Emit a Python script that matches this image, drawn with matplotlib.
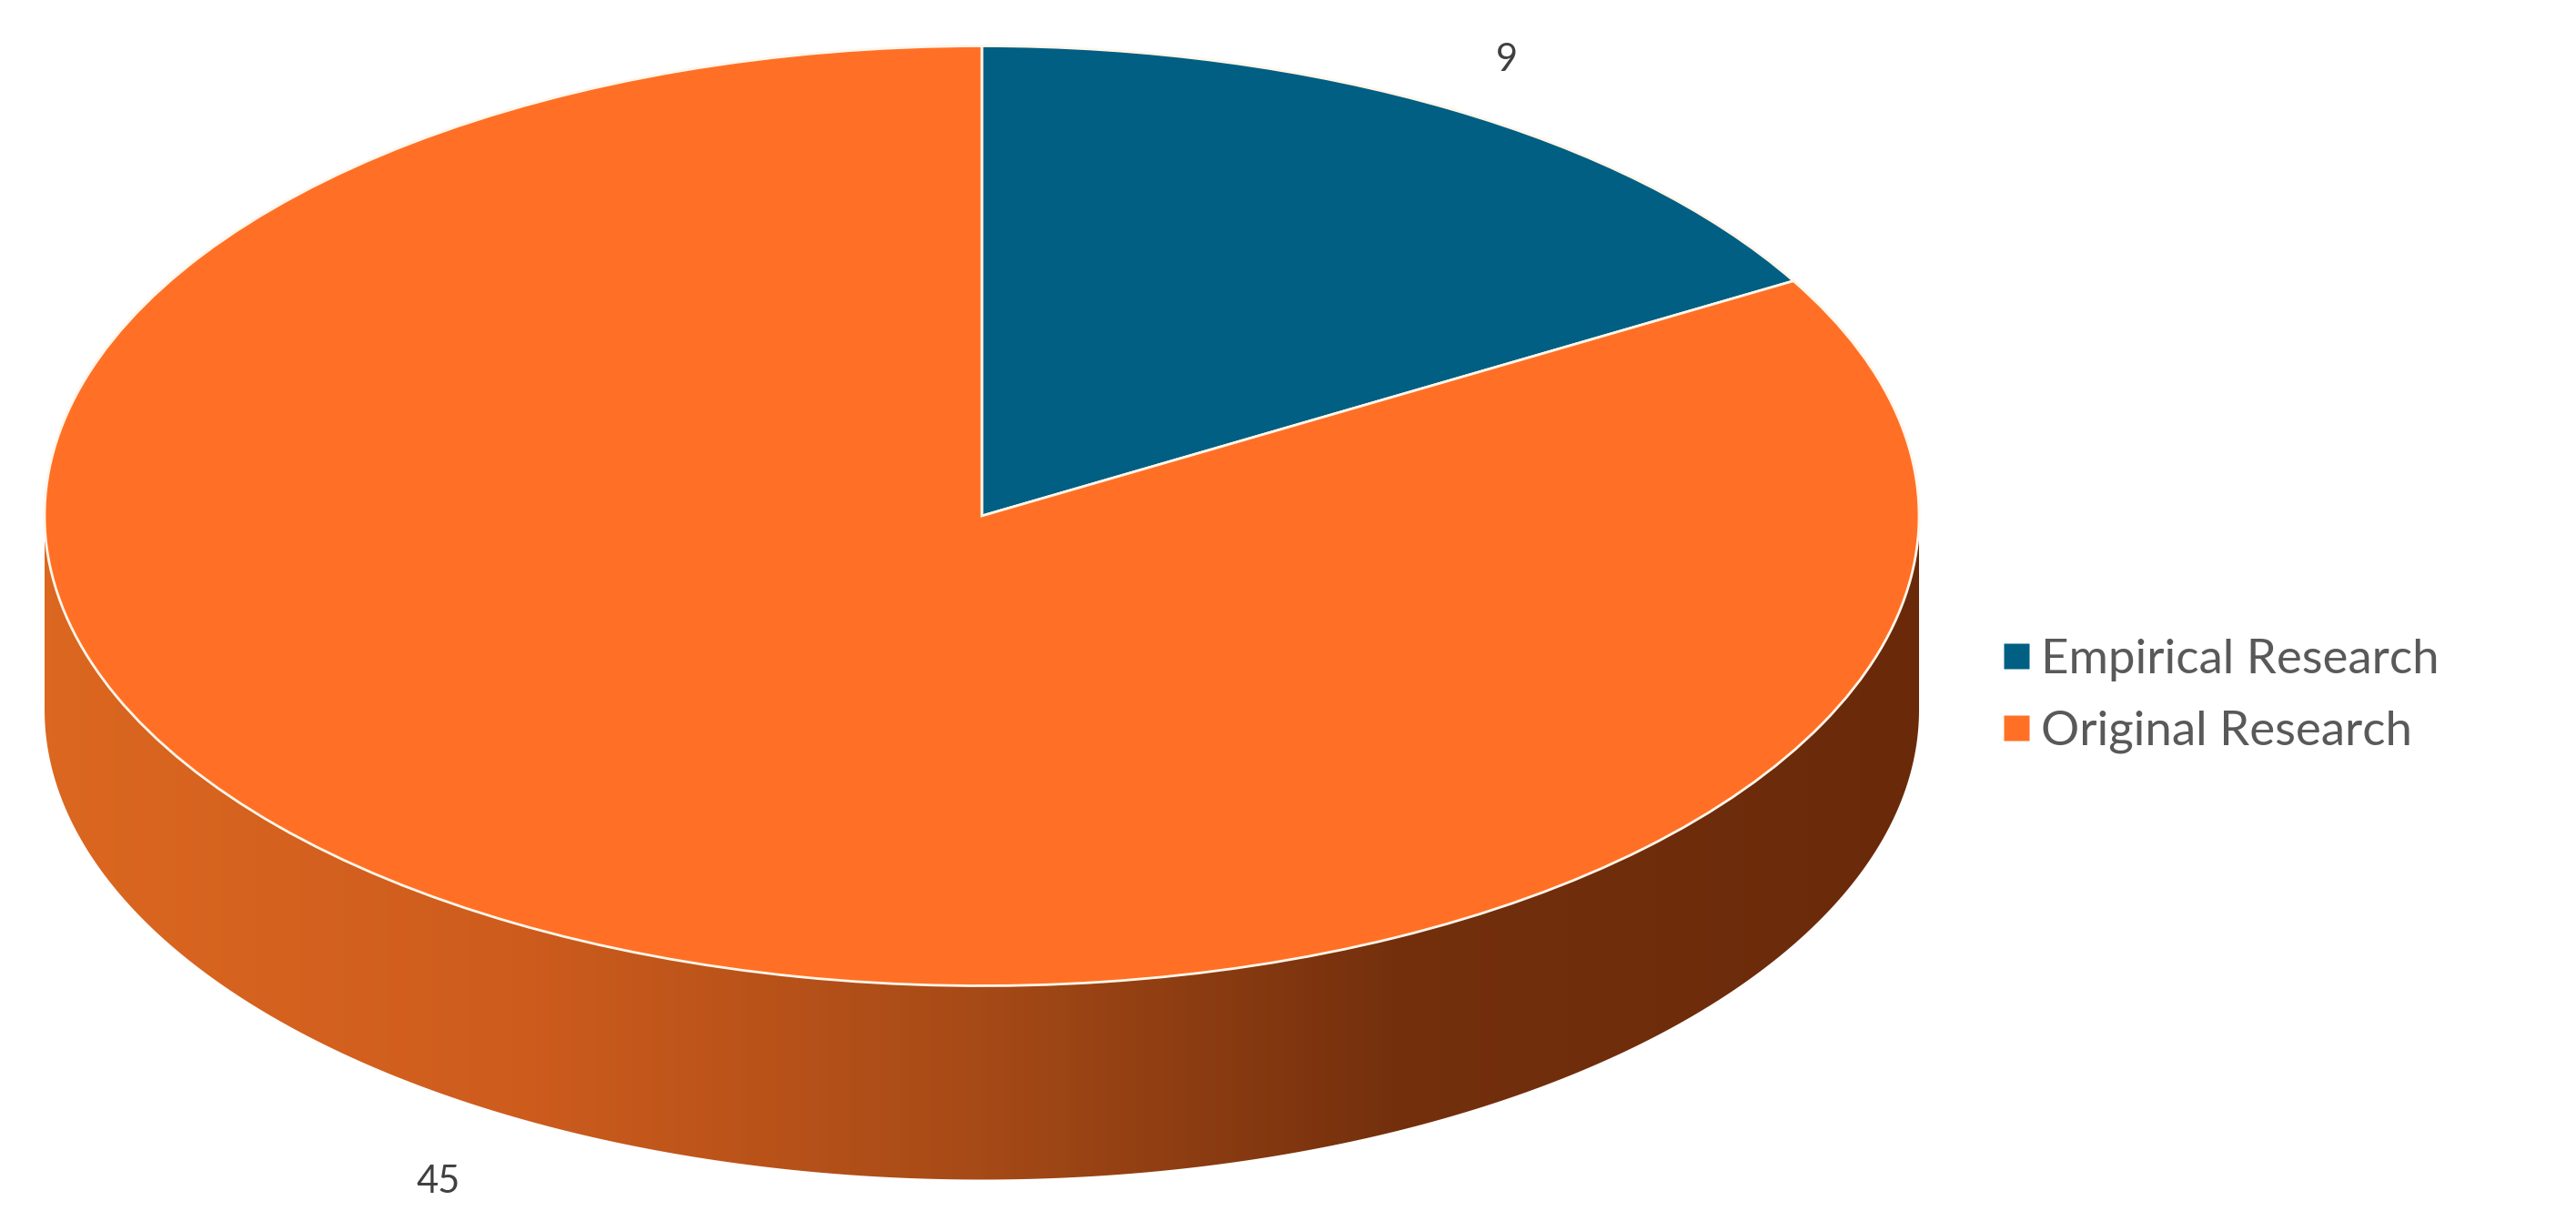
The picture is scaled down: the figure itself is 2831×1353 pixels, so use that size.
import numpy as np
import matplotlib
matplotlib.use("Agg")
import matplotlib.pyplot as plt
from matplotlib.colors import LinearSegmentedColormap
from matplotlib.lines import Line2D
from matplotlib.patches import Polygon

# data
categories = ["Empirical Research", "Original Research"]
values = [9, 45]
colors = ["#005F82", "#FF7026"]
text_color = "#595959"
label_color = "#404040"

# disc geometry in pixels
W, H = 2831, 1353
cx, cy = 1079, 567
rx, ry = 1030, 516.5
depth = 213 / ry

plt.rcParams['font.family'] = ['Lato', 'DejaVu Sans']

fig = plt.figure(figsize=(W / 100, H / 100), dpi=100)
ax = fig.add_axes([0, 0, 1, 1])

# top of the disc, pie() starts at 12 o'clock and goes clockwise
wedges, _ = ax.pie(values, colors=colors, startangle=90, counterclock=False,
                   radius=1, center=(0, 0),
                   wedgeprops={'edgecolor': '#FFF6EA', 'linewidth': 2.0, 'zorder': 5})

# side wall of the disc, shaded left to right
t = np.linspace(np.pi, 2 * np.pi, 400)
upper = np.column_stack([np.cos(t), np.sin(t)])
lower = np.column_stack([np.cos(t[::-1]), np.sin(t[::-1]) - depth])
wall = Polygon(np.vstack([upper, lower]), closed=True, facecolor='none', edgecolor='none',
               transform=ax.transData)
ax.add_patch(wall)
shade = LinearSegmentedColormap.from_list("shade", [
    (0.0, "#DB6720"), (0.25, "#CE5C1D"), (0.5, "#A64A17"),
    (0.72, "#74300D"), (1.0, "#6A2A0A")])
img = ax.imshow(np.linspace(0, 1, 512).reshape(1, -1), cmap=shade, aspect='auto',
                extent=(-1, 1, -1 - depth, 0), zorder=1)
img.set_clip_path(wall)

# y axis in units of the vertical radius makes the circle an ellipse
ax.set_aspect('auto')
ax.set_xlim(-cx / rx, (W - cx) / rx)
ax.set_ylim((cy - H) / ry, cy / ry)
ax.axis('off')

# value labels sit outside the middle of each slice
total = sum(values)
start = 0
for val, r, drop in zip(values, [1.12, 1.16], [0, depth]):
    mid = 2 * np.pi * (start + val / 2) / total
    ax.text(r * np.sin(mid), r * np.cos(mid) - drop, str(val), fontsize=30,
            color=label_color, ha='center', va='center', zorder=6)
    start += val

handles = [Line2D([], [], linestyle='none', marker='s', markersize=20,
                  markerfacecolor=c, markeredgecolor='none') for c in colors]
ax.legend(handles, categories, loc='center left', bbox_to_anchor=(2190 / W, 1 - 765 / H),
          frameon=False, fontsize=38, labelcolor=text_color, handletextpad=0.0,
          handlelength=1.0, labelspacing=0.6, borderpad=0, borderaxespad=0)

fig.savefig("out.png", dpi=100, facecolor='white')
